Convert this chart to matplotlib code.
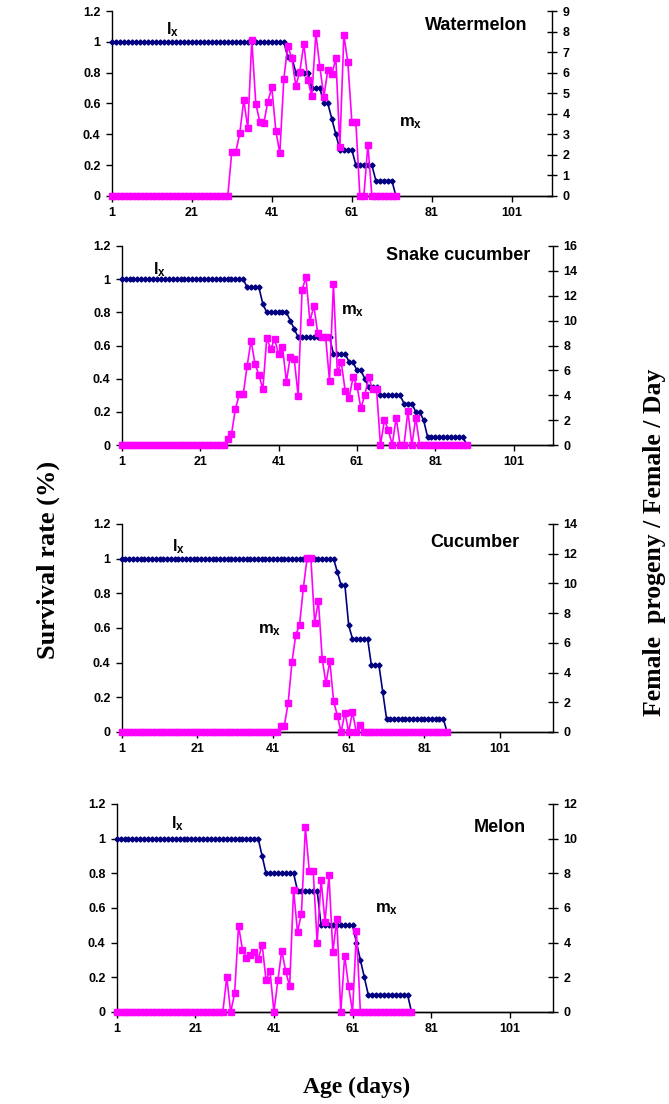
import matplotlib
matplotlib.use("Agg")
import matplotlib.pyplot as plt
import numpy as np

plt.rcParams['font.family'] = ['Liberation Sans', 'DejaVu Sans']
plt.rcParams['mathtext.fontset'] = 'custom'
plt.rcParams['mathtext.rm'] = 'Liberation Sans:bold'
plt.rcParams['mathtext.bf'] = 'Liberation Sans:bold'
plt.rcParams['mathtext.it'] = 'Liberation Sans:bold'

# ---------------- data (day 1 .. N) ----------------
crops = ["Watermelon", "Snake cucumber", "Cucumber", "Melon"]

watermelon_lx = [
    1.0, 1.0, 1.0, 1.0, 1.0, 1.0, 1.0, 1.0, 1.0, 1.0,
    1.0, 1.0, 1.0, 1.0, 1.0, 1.0, 1.0, 1.0, 1.0, 1.0,
    1.0, 1.0, 1.0, 1.0, 1.0, 1.0, 1.0, 1.0, 1.0, 1.0,
    1.0, 1.0, 1.0, 1.0, 1.0, 1.0, 1.0, 1.0, 1.0, 1.0,
    1.0, 1.0, 1.0, 1.0, 0.9, 0.9, 0.8, 0.8, 0.8, 0.8,
    0.7, 0.7, 0.7, 0.6, 0.6, 0.5, 0.4, 0.3, 0.3, 0.3,
    0.3, 0.2, 0.2, 0.2, 0.2, 0.2, 0.1, 0.1, 0.1, 0.1,
    0.1, 0.0]
watermelon_mx = [
    0, 0, 0, 0, 0, 0, 0, 0, 0, 0,
    0, 0, 0, 0, 0, 0, 0, 0, 0, 0,
    0, 0, 0, 0, 0, 0, 0, 0, 0, 0,
    2.15, 2.15, 3.05, 4.67, 3.29, 7.59, 4.5, 3.6, 3.53, 4.59,
    5.28, 3.18, 2.07, 5.7, 7.3, 6.7, 5.37, 6.05, 7.41, 5.64,
    4.86, 7.91, 6.29, 4.83, 6.13, 5.92, 6.7, 2.4, 7.83, 6.5,
    3.6, 3.6, 0, 0, 2.5, 0, 0, 0, 0, 0,
    0, 0]

snake_lx = [
    1.0, 1.0, 1.0, 1.0, 1.0, 1.0, 1.0, 1.0, 1.0, 1.0,
    1.0, 1.0, 1.0, 1.0, 1.0, 1.0, 1.0, 1.0, 1.0, 1.0,
    1.0, 1.0, 1.0, 1.0, 1.0, 1.0, 1.0, 1.0, 1.0, 1.0,
    1.0, 1.0, 0.95, 0.95, 0.95, 0.95, 0.85, 0.8, 0.8, 0.8,
    0.8, 0.8, 0.8, 0.75, 0.7, 0.65, 0.65, 0.65, 0.65, 0.65,
    0.65, 0.65, 0.65, 0.65, 0.55, 0.55, 0.55, 0.55, 0.5, 0.5,
    0.45, 0.45, 0.4, 0.35, 0.35, 0.35, 0.3, 0.3, 0.3, 0.3,
    0.3, 0.3, 0.25, 0.25, 0.25, 0.2, 0.2, 0.15, 0.05, 0.05,
    0.05, 0.05, 0.05, 0.05, 0.05, 0.05, 0.05, 0.05, 0.0]
snake_mx = [
    0, 0, 0, 0, 0, 0, 0, 0, 0, 0,
    0, 0, 0, 0, 0, 0, 0, 0, 0, 0,
    0, 0, 0, 0, 0, 0, 0, 0.46, 0.88, 2.9,
    4.08, 4.08, 6.38, 8.39, 6.52, 5.63, 4.48, 8.63, 7.7, 8.53,
    7.3, 7.91, 5.1, 7.1, 6.92, 3.97, 12.47, 13.49, 9.92, 11.2,
    8.98, 8.71, 8.71, 5.18, 12.93, 5.85, 6.65, 4.34, 3.8, 5.44,
    4.77, 2.95, 4.02, 5.44, 4.48, 4.48, 0, 2.0, 1.2, 0,
    2.2, 0, 0, 2.73, 0, 2.2, 0, 0, 0, 0,
    0, 0, 0, 0, 0, 0, 0, 0, 0]

cucumber_lx = [
    1.0, 1.0, 1.0, 1.0, 1.0, 1.0, 1.0, 1.0, 1.0, 1.0,
    1.0, 1.0, 1.0, 1.0, 1.0, 1.0, 1.0, 1.0, 1.0, 1.0,
    1.0, 1.0, 1.0, 1.0, 1.0, 1.0, 1.0, 1.0, 1.0, 1.0,
    1.0, 1.0, 1.0, 1.0, 1.0, 1.0, 1.0, 1.0, 1.0, 1.0,
    1.0, 1.0, 1.0, 1.0, 1.0, 1.0, 1.0, 1.0, 1.0, 1.0,
    1.0, 1.0, 1.0, 1.0, 1.0, 1.0, 1.0, 0.923, 0.846, 0.846,
    0.615, 0.538, 0.538, 0.538, 0.538, 0.538, 0.385, 0.385, 0.385, 0.231,
    0.077, 0.077, 0.077, 0.077, 0.077, 0.077, 0.077, 0.077, 0.077, 0.077,
    0.077, 0.077, 0.077, 0.077, 0.077, 0.077, 0.0]
cucumber_mx = [
    0, 0, 0, 0, 0, 0, 0, 0, 0, 0,
    0, 0, 0, 0, 0, 0, 0, 0, 0, 0,
    0, 0, 0, 0, 0, 0, 0, 0, 0, 0,
    0, 0, 0, 0, 0, 0, 0, 0, 0, 0,
    0, 0, 0.43, 0.43, 1.97, 4.69, 6.53, 7.2, 9.67, 11.7,
    11.7, 7.36, 8.82, 4.91, 3.27, 4.8, 2.09, 1.1, 0, 1.3,
    0, 1.35, 0, 0.5, 0, 0, 0, 0, 0, 0,
    0, 0, 0, 0, 0, 0, 0, 0, 0, 0,
    0, 0, 0, 0, 0, 0, 0]

melon_lx = [
    1.0, 1.0, 1.0, 1.0, 1.0, 1.0, 1.0, 1.0, 1.0, 1.0,
    1.0, 1.0, 1.0, 1.0, 1.0, 1.0, 1.0, 1.0, 1.0, 1.0,
    1.0, 1.0, 1.0, 1.0, 1.0, 1.0, 1.0, 1.0, 1.0, 1.0,
    1.0, 1.0, 1.0, 1.0, 1.0, 1.0, 1.0, 0.9, 0.8, 0.8,
    0.8, 0.8, 0.8, 0.8, 0.8, 0.8, 0.7, 0.7, 0.7, 0.7,
    0.7, 0.7, 0.5, 0.5, 0.5, 0.5, 0.5, 0.5, 0.5, 0.5,
    0.5, 0.4, 0.3, 0.2, 0.1, 0.1, 0.1, 0.1, 0.1, 0.1,
    0.1, 0.1, 0.1, 0.1, 0.1, 0.0]
melon_mx = [
    0, 0, 0, 0, 0, 0, 0, 0, 0, 0,
    0, 0, 0, 0, 0, 0, 0, 0, 0, 0,
    0, 0, 0, 0, 0, 0, 0, 0, 2.0, 0,
    1.07, 4.96, 3.6, 3.11, 3.27, 3.46, 3.06, 3.88, 1.83, 2.38,
    0, 1.83, 3.54, 2.34, 1.48, 7.06, 4.62, 5.67, 10.65, 8.11,
    8.11, 3.98, 7.63, 5.19, 7.88, 3.46, 5.38, 0, 3.25, 1.48,
    0, 4.65, 0, 0, 0, 0, 0, 0, 0, 0,
    0, 0, 0, 0, 0, 0]

lx_series = [watermelon_lx, snake_lx, cucumber_lx, melon_lx]
mx_series = [watermelon_mx, snake_mx, cucumber_mx, melon_mx]
right_max = [9, 16, 14, 12]
right_step = [1, 2, 2, 2]
x_ticks = [1, 21, 41, 61, 81, 101]
left_ticks = [0, 0.2, 0.4, 0.6, 0.8, 1.0, 1.2]
left_ticklabels = ["0", "0.2", "0.4", "0.6", "0.8", "1", "1.2"]

# ---------------- layout (pixels) ----------------
W, H = 669, 1104
fig = plt.figure(figsize=(W / 100, H / 100), dpi=100)

def fx(px):
    return px / W

def fy(py):
    return 1 - py / H

# (left, top, right, bottom) of plot areas, x max category
rects = [(111.7, 11, 552, 196), (121.7, 246, 553, 445),
         (121.7, 524, 553, 732), (116.7, 804, 553, 1012)]
xmaxs = [111, 111, 115, 112]

# annotation positions: title center, lx left/baseline, mx left/baseline
title_pos = [(476, 26), (458, 256), (475, 542), (500, 827)]
lx_pos = [(166, 34), (153, 274), (172, 551), (171, 828)]
mx_pos = [(399, 126), (341, 314), (258, 633), (375, 912)]

NAVY = "#000080"
MAG = "#FF00FF"
tick_font = dict(family="Liberation Sans", weight="bold", size=9)

for i in range(4):
    l, t, r, b = rects[i]
    ax = fig.add_axes([fx(l), fy(b), fx(r) - fx(l), fy(t) - fy(b)])
    ax2 = ax.twinx()
    lx = lx_series[i]
    mx = mx_series[i]
    days_l = np.arange(1, len(lx) + 1)
    days_m = np.arange(1, len(mx) + 1)
    ax.plot(days_l, lx, color=NAVY, lw=1.2, marker="D", ms=2.6,
            mfc=NAVY, mec=NAVY, clip_on=False, zorder=3)
    ax2.plot(days_m, mx, color=MAG, lw=1.2, marker="s", ms=4.2,
             mfc=MAG, mec=MAG, clip_on=False, zorder=3)
    ax.set_xlim(1, xmaxs[i])
    ax.set_ylim(0, 1.2)
    ax2.set_ylim(0, right_max[i])
    ax.set_xticks(x_ticks)
    ax.set_xticklabels([str(v) for v in x_ticks], fontdict=tick_font)
    ax.set_yticks(left_ticks)
    ax.set_yticklabels(left_ticklabels, fontdict=tick_font)
    rt = list(range(0, right_max[i] + 1, right_step[i]))
    ax2.set_yticks(rt)
    ax2.set_yticklabels([str(v) for v in rt], fontdict=tick_font)
    for a in (ax, ax2):
        a.spines["top"].set_visible(False)
        for s in a.spines.values():
            s.set_linewidth(1.0)
    ax.spines["right"].set_visible(False)
    ax2.spines["left"].set_visible(False)
    ax.tick_params(axis="x", direction="out", length=4, width=1, pad=4)
    ax.tick_params(axis="y", direction="out", length=4, width=1, pad=4)
    ax2.tick_params(axis="y", direction="inout", length=7, width=1, pad=4)
    ax.patch.set_visible(False)

    tx, ty = title_pos[i]
    fig.text(fx(tx), fy(ty), crops[i], ha="center", va="center",
             fontsize=13, fontweight="bold", family="Liberation Sans")
    lxx, lxy = lx_pos[i]
    fig.text(fx(lxx), fy(lxy), r"$\mathbf{l}_{\mathbf{x}}$", ha="left",
             va="baseline", fontsize=12)
    mxx, mxy = mx_pos[i]
    fig.text(fx(mxx), fy(mxy), r"$\mathbf{m}_{\mathbf{x}}$", ha="left",
             va="baseline", fontsize=12)

fig.text(fx(48), fy(560), "Survival rate (%)", rotation=90, ha="center",
         va="center", fontsize=19, fontweight="bold", family="Liberation Serif")
fig.text(fx(655), fy(542), "Female  progeny / Female / Day", rotation=90,
         ha="center", va="center", fontsize=18.5, fontweight="bold",
         family="Liberation Serif")
fig.text(fx(357), fy(1087), "Age (days)", ha="center", va="center",
         fontsize=17, fontweight="bold", family="Liberation Serif")

fig.savefig("out.png", dpi=100)
